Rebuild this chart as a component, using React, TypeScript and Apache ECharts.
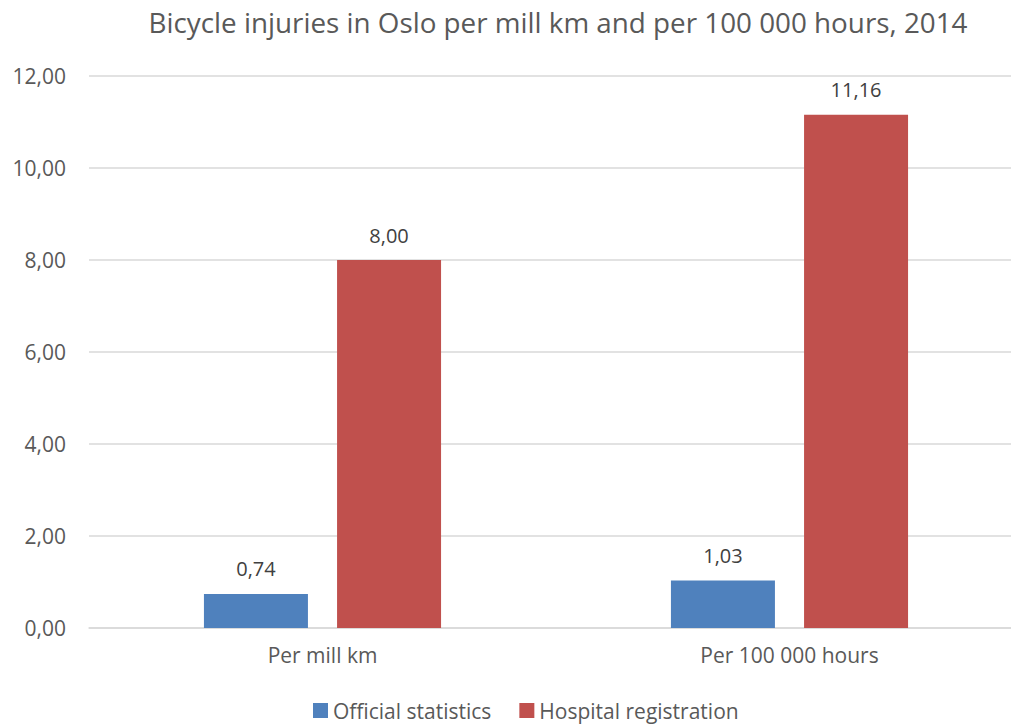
import React, { useEffect, useRef } from "react";
import * as echarts from "echarts";

const categories = ["Per mill km", "Per 100 000 hours"];
const officialStatistics = [0.74, 1.03];
const hospitalRegistration = [8.0, 11.16];
const seriesNames = ["Official statistics", "Hospital registration"];
const titleText = "Bicycle injuries in Oslo per mill km and per 100 000 hours, 2014";

const FONT = "'Open Sans', sans-serif";
const fmt = (v: number) => v.toFixed(2).replace(".", ",");

export default function App() {
  const ref = useRef<HTMLDivElement>(null);
  useEffect(() => {
    if (!ref.current) return;
    const chart = echarts.init(ref.current, undefined, { renderer: "svg" });
    const label = {
      show: true,
      position: "top" as const,
      distance: 15,
      color: "#404040",
      fontFamily: FONT,
      fontSize: 20,
      formatter: (p: any) => fmt(p.value),
    };
    chart.setOption({
      animation: false,
      backgroundColor: "#ffffff",
      title: {
        text: titleText,
        left: 553,
        textAlign: "center",
        top: 3,
        textStyle: { color: "#595959", fontFamily: FONT, fontSize: 27.8, fontWeight: "normal" },
      },
      legend: {
        data: seriesNames,
        left: 308,
        bottom: 0,
        itemWidth: 15,
        itemHeight: 15,
        itemGap: 28,
        icon: "rect",
        textStyle: { color: "#595959", fontFamily: FONT, fontSize: 21 },
      },
      grid: { left: 89, right: 7, top: 76, bottom: 98, containLabel: false },
      xAxis: {
        type: "category",
        data: categories,
        axisLine: { lineStyle: { color: "#D9D9D9", width: 1.5 } },
        axisTick: { show: false },
        axisLabel: { color: "#595959", fontFamily: FONT, fontSize: 21, margin: 16 },
      },
      yAxis: {
        type: "value",
        min: 0,
        max: 12,
        interval: 2,
        axisLine: { show: false },
        axisTick: { show: false },
        splitLine: { lineStyle: { color: "#D9D9D9", width: 1.5 } },
        axisLabel: {
          color: "#595959",
          fontFamily: FONT,
          fontSize: 21,
          margin: 23,
          formatter: (v: number) => fmt(v),
        },
      },
      series: [
        {
          name: seriesNames[0],
          type: "bar",
          data: officialStatistics,
          barWidth: 104,
          barGap: "28%",
          itemStyle: { color: "#4F81BD" },
          label,
        },
        {
          name: seriesNames[1],
          type: "bar",
          data: hospitalRegistration,
          barWidth: 104,
          itemStyle: { color: "#C0504D" },
          label,
        },
      ],
    });
    return () => chart.dispose();
  }, []);
  return (
    <div style={{ position: "absolute", left: 0, top: 0, width: 1011, height: 726, overflow: "hidden" }}>
      <div ref={ref} style={{ width: 1030, height: 726 }} />
    </div>
  );
}
